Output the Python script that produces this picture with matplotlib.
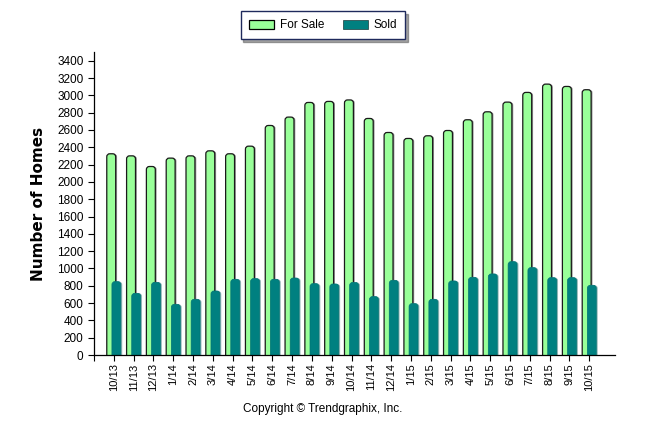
import matplotlib
matplotlib.use('Agg')
import matplotlib.pyplot as plt
from matplotlib.patches import FancyBboxPatch

months = ['10/13', '11/13', '12/13', '1/14', '2/14', '3/14', '4/14', '5/14', '6/14',
          '7/14', '8/14', '9/14', '10/14', '11/14', '12/14', '1/15', '2/15', '3/15',
          '4/15', '5/15', '6/15', '7/15', '8/15', '9/15', '10/15']
for_sale = [2325, 2301, 2178, 2275, 2301, 2359, 2325, 2413, 2652, 2749, 2918, 2930, 2947,
            2733, 2571, 2502, 2533, 2594, 2718, 2810, 2922, 3034, 3130, 3103, 3065]
sold = [848, 713, 840, 586, 644, 740, 875, 883, 875, 890, 825, 821, 838,
        675, 863, 594, 644, 856, 898, 937, 1079, 1010, 894, 894, 806]

plt.rcParams['font.family'] = ['Liberation Sans', 'DejaVu Sans']

fig = plt.figure(figsize=(6.46, 4.34), dpi=100)
ax = fig.add_axes([0.1455, 0.182, 0.8065, 0.698])
ax.set_xlim(-1, 25.3)
ax.set_ylim(0, 3500)

x = list(range(len(months)))
w = 0.45
off = 0.13

# rounded bar tops: replace the plain bars with rounded boxes
px_x = 0.8065 * 646 / 26.3
px_y = 0.698 * 434 / 3500
r = 3.0 / px_x
aspect = px_x / px_y


def rounded(bars, face, edge, lw, z, shadow):
    for b in bars:
        bx, bw, bh = b.get_x(), b.get_width(), b.get_height()
        b.set_visible(False)
        if shadow:
            sh = FancyBboxPatch((bx + 0.07, -200), bw, bh + 200,
                                boxstyle='round,pad=0,rounding_size=%f' % r,
                                mutation_aspect=aspect, fc=shadow, ec='none',
                                zorder=z - 0.5, clip_on=True)
            ax.add_patch(sh)
        p = FancyBboxPatch((bx, -200), bw, bh + 200,
                           boxstyle='round,pad=0,rounding_size=%f' % r,
                           mutation_aspect=aspect, fc=face, ec=edge, lw=lw,
                           zorder=z, clip_on=True)
        ax.add_patch(p)


b1 = ax.bar([i - off for i in x], for_sale, width=w, color='#99ff99', edgecolor='#1a1a1a',
            linewidth=0.9, label='For Sale')
b2 = ax.bar([i + off for i in x], sold, width=w, color='#008080', edgecolor='#008080',
            linewidth=0.5, label='Sold')
rounded(b1, '#99ff99', '#1a1a1a', 0.9, 2, '#9a9a9a')
rounded(b2, '#008080', '#007474', 0.5, 4, '#8fb5b5')

ax.set_yticks(range(0, 3401, 200))
ax.set_xticks(x)
ax.set_xticklabels(months, rotation=90, fontsize=8)
ax.set_xticks([-1], minor=True)
ax.tick_params(axis='y', labelsize=8.5, length=4, width=0.8)
ax.tick_params(axis='x', which='both', length=4, width=0.8, pad=2)

for s in ['top', 'right']:
    ax.spines[s].set_visible(False)
for s in ['left', 'bottom']:
    ax.spines[s].set_linewidth(0.9)
    ax.spines[s].set_zorder(6)

ax.set_ylabel('Number of Homes', fontsize=11, fontweight='bold', family='DejaVu Sans',
              labelpad=8)

leg = fig.legend(handles=[b1, b2], loc='center', bbox_to_anchor=(0.5, 0.942), ncol=2,
                 fontsize=8.5, frameon=True, fancybox=False, shadow=True, handlelength=2.1,
                 handleheight=0.8, columnspacing=1.6, borderpad=0.7, handletextpad=0.5)
leg.get_frame().set_edgecolor('#1f2a5c')
leg.get_frame().set_linewidth(1.0)
for h in leg.legend_handles:
    h.set_visible(True)
leg.legend_handles[0].set_edgecolor('black')
leg.legend_handles[1].set_edgecolor('#1a3a3a')

fig.text(0.5, 0.058, 'Copyright \u00a9 Trendgraphix, Inc.', ha='center', va='center',
         fontsize=8.5)

fig.savefig('out.png', dpi=100)
